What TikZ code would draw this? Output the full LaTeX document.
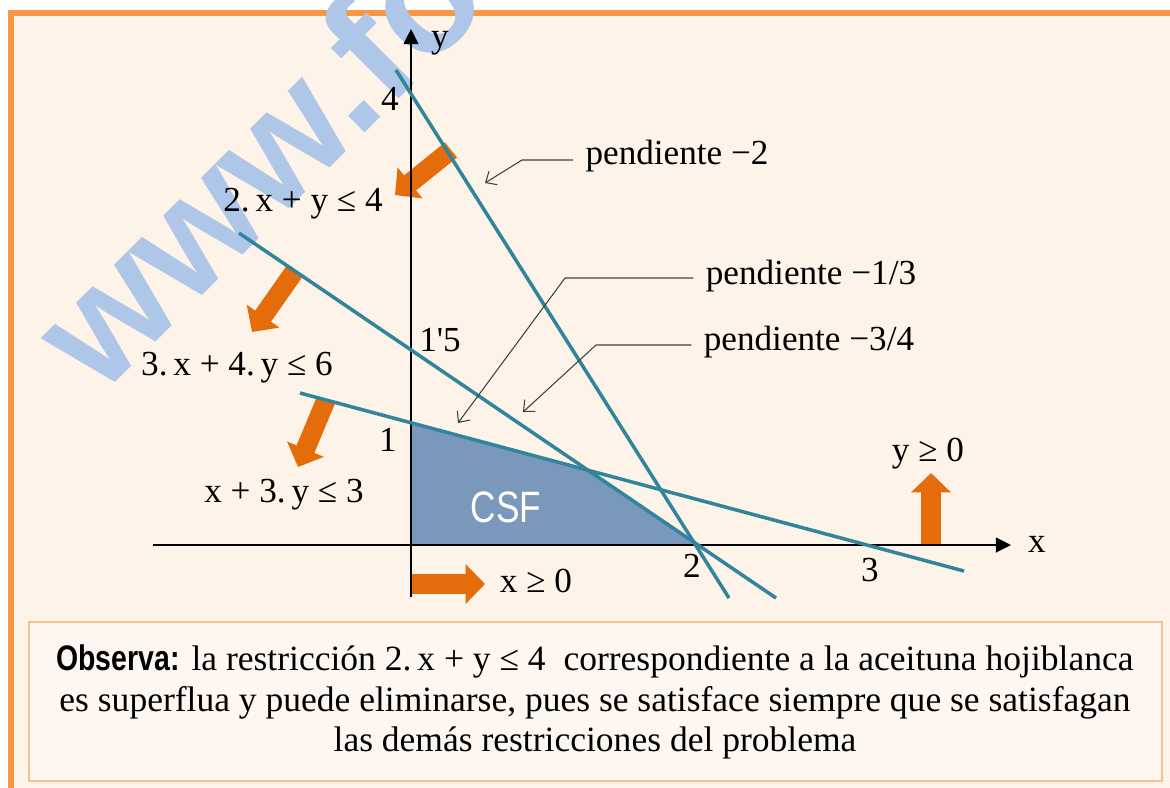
\documentclass[tikz,border=0pt]{standalone}
\usepackage{fontspec}
\setmainfont{Liberation Serif}
\newfontfamily\narrowsf[FakeStretch=0.8]{Liberation Sans}
\newfontfamily\marcasf{Liberation Sans}
\usetikzlibrary{arrows.meta,calc}

\definecolor{marco}{RGB}{247,150,70}
\definecolor{fondo}{RGB}{254,243,233}
\definecolor{fondocaja}{RGB}{254,246,240}
\definecolor{bordecaja}{RGB}{249,192,146}
\definecolor{naranja}{RGB}{228,108,10}
\definecolor{verdeazul}{RGB}{49,133,155}
\definecolor{csf}{RGB}{122,152,187}
\definecolor{marca}{RGB}{174,198,231}

\begin{document}
\begin{tikzpicture}[x=0.01cm,y=-0.01cm,
    recta/.style={line width=1pt,draw=verdeazul},
    eje/.style={line width=0.6pt,-{Triangle[length=4.3pt,width=4.2pt]}},
    flecha/.style={draw=naranja,line width=5.5pt,-{Triangle[length=5.5pt,width=11pt]}},
    guia/.style={line width=0.3pt,draw=black!75,-{Straight Barb[length=2.5pt,width=4.5pt]}},
    etiq/.style={font=\fontsize{10}{12}\selectfont}]
	\clip (0,0) rectangle (1170,787);
	\fill[white] (0,0) rectangle (1170,787);
	\fill[fondo] (11,13) rectangle (1180,800);
	\draw[marco,line width=1.6pt] (11,13) rectangle (1180,800);

	% marca de agua
	\node[rotate=45,anchor=base west,inner sep=0pt,text=marca,
	      font=\marcasf\bfseries\fontsize{45}{54}\selectfont] (www) at (100,398) {www.fo};

	\coordinate (O) at (411,545);
	\coordinate (ytop) at (411,29);
	\coordinate (ybot) at (411,597);
	\coordinate (xizq) at (153,545);
	\coordinate (xder) at (1011,545);

	\coordinate (r1a) at (396,70);
	\coordinate (r1b) at (729,598);
	\coordinate (r2a) at (239,233);
	\coordinate (r2b) at (776,598);
	\coordinate (r3a) at (300,393);
	\coordinate (r3b) at (964,571);

	\coordinate (v1) at (411,423);
	\coordinate (v2) at (587,469);
	\coordinate (v3) at (695,545);

	% region factible
	\fill[csf] (O) -- (v1) -- (v2) -- (v3) -- cycle;
	\node[text=white,font=\narrowsf\fontsize{12.5}{14}\selectfont,anchor=base] (CSF) at (506,522) {CSF};

	% flechas de semiplano
	\coordinate (f1a) at (451,150);
	\coordinate (f1b) at (395,195);
	\coordinate (f2a) at (294,272);
	\coordinate (f2b) at (252,332);
	\coordinate (f3a) at (326,400);
	\coordinate (f3b) at (298,467);
	\coordinate (f4a) at (411,584);
	\coordinate (f4b) at (485,584);
	\coordinate (f5a) at (931,546);
	\coordinate (f5b) at (931,473);
	\draw[flecha] (f1a) -- (f1b);
	\draw[flecha] (f2a) -- (f2b);
	\draw[flecha] (f3a) -- (f3b);
	\draw[flecha] (f4a) -- (f4b);
	\draw[flecha] (f5a) -- (f5b);

	\draw[eje] (ybot) -- (ytop);
	\draw[eje] (xizq) -- (xder);
	\node[etiq,anchor=base] (ly) at (440,47) {y};
	\node[etiq,anchor=base] (lx) at (1037,552) {x};

	\draw[recta] (r1a) -- (r1b);
	\draw[recta] (r2a) -- (r2b);
	\draw[recta] (r3a) -- (r3b);

	\node[etiq,anchor=base] (n4) at (390,110) {4};
	\node[etiq,anchor=base] (n15) at (440,351) {1\textquotesingle5};
	\node[etiq,anchor=base] (n1) at (388,451) {1};
	\node[etiq,anchor=base] (n2) at (692,577) {2};
	\node[etiq,anchor=base] (n3) at (870,581) {3};

	\node[etiq,anchor=base] (res1) at (303,211) {2.\,x + y ≤ 4};
	\node[etiq,anchor=base] (res2) at (237,375) {3.\,x + 4.\,y ≤ 6};
	\node[etiq,anchor=base] (res3) at (284,502) {x + 3.\,y ≤ 3};
	\node[etiq,anchor=base] (res4) at (928,461) {y ≥ 0};
	\node[etiq,anchor=base] (res5) at (536,592) {x ≥ 0};

	% pendientes
	\node[etiq,anchor=base] (p2) at (677,164) {pendiente −2};
	\node[etiq,anchor=base] (p13) at (811,284) {pendiente −1/3};
	\node[etiq,anchor=base] (p34) at (809,350) {pendiente −3/4};
	\coordinate (k2) at (522,160);
	\coordinate (e2) at (485,183);
	\coordinate (k13) at (565,278);
	\coordinate (e13) at (458,423);
	\coordinate (k34) at (596,345);
	\coordinate (e34) at (523,412);
	\draw[guia] (p2.west |- k2) -- (k2) -- (e2);
	\draw[guia] (p13.west |- k13) -- (k13) -- (e13);
	\draw[guia] (p34.west |- k34) -- (k34) -- (e34);

	% observacion
	\draw[draw=bordecaja,fill=fondocaja,line width=0.6pt] (29,622) rectangle (1162,781);
	\node[font=\fontsize{10.1}{11.6}\selectfont,align=center] (obs) at (595,702)
	  {{\narrowsf\bfseries Observa:} la restricción 2.\,x + y ≤ 4\ \ correspondiente a la aceituna hojiblanca\\
	   es superflua y puede eliminarse, pues se satisface siempre que se satisfagan\\
	   las demás restricciones del problema};
\end{tikzpicture}
\end{document}
